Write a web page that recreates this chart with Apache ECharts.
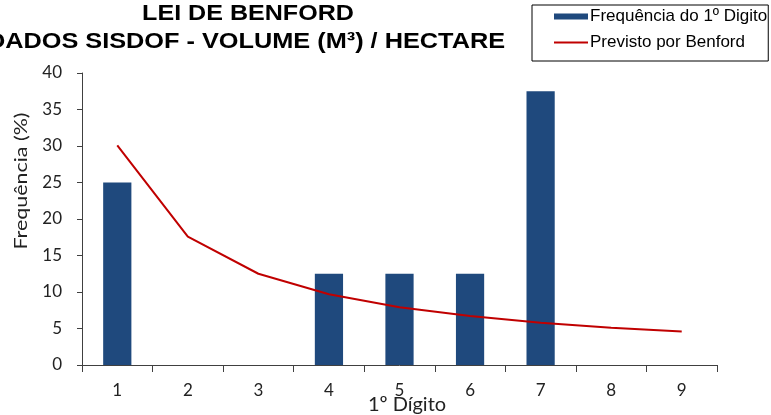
<!DOCTYPE html>
<html><head><meta charset="utf-8">
<script src="https://cdn.jsdelivr.net/npm/echarts@6/dist/echarts.min.js"></script>
<style>html,body{margin:0;padding:0;background:#fff}#c{width:771px;height:415px}</style>
</head><body><div id="c"></div>
<script>
const categories = ['1','2','3','4','5','6','7','8','9'];
const frequencia = [25, 0, 0, 12.5, 12.5, 12.5, 37.5, 0, 0];
const benford = [30.1, 17.6, 12.5, 9.7, 7.9, 6.7, 5.8, 5.1, 4.6];
const yTicks = [0, 5, 10, 15, 20, 25, 30, 35, 40];
const titleLines = ['LEI DE BENFORD', 'DADOS SISDOF - VOLUME (M³) / HECTARE'];
const seriesNames = ['Frequência do 1º Digito', 'Previsto por Benford'];
const xName = '1º Dígito';
const yName = 'Frequência (%)';

const chart = echarts.init(document.getElementById('c'), null, {renderer: 'canvas'});
const axisFont = 'Lato, "Open Sans", sans-serif';
chart.setOption({
  animation: false,
  backgroundColor: '#fff',
  graphic: [
    {type: 'text', x: 248, y: 14, scaleX: 1.14, style: {text: titleLines[0], fontFamily: '"Liberation Sans", Arial', fontWeight: 'bold', fontSize: 22, fill: '#000', align: 'center', verticalAlign: 'middle'}},
    {type: 'text', x: 246, y: 42, scaleX: 1.15, style: {text: titleLines[1], fontFamily: '"Liberation Sans", Arial', fontWeight: 'bold', fontSize: 22, fill: '#000', align: 'center', verticalAlign: 'middle'}},
    {type: 'text', x: 22, y: 181, rotation: Math.PI / 2, scaleX: 1.26, style: {text: yName, fontFamily: axisFont, fontSize: 17, fill: '#222', align: 'center', verticalAlign: 'middle'}},
    {type: 'text', x: 407, y: 405, style: {text: xName, fontFamily: axisFont, fontSize: 20, fill: '#222', align: 'center', verticalAlign: 'middle'}}
  ],
  legend: {
    orient: 'vertical', left: 532, top: 5,
    borderColor: '#000', borderWidth: 1, padding: [3, 1, 10, 21],
    itemWidth: 34, itemHeight: 6, itemGap: 9,
    textStyle: {fontFamily: '"Liberation Sans", Arial', fontSize: 17, color: '#000', padding: [0,0,0,-3]},
    data: [
      {name: seriesNames[0], icon: 'rect'},
      {name: seriesNames[1], itemStyle: {opacity: 0}, lineStyle: {color: '#C00000', width: 2}}
    ]
  },
  grid: {left: 82, right: 54, top: 73, bottom: 50},
  xAxis: {
    type: 'category', data: categories,
    axisLine: {lineStyle: {color: '#404040', width: 1}},
    axisTick: {show: true, alignWithLabel: false, length: 7, lineStyle: {color: '#404040'}},
    axisLabel: {fontFamily: axisFont, fontSize: 17, color: '#222', margin: 17}
  },
  yAxis: {
    type: 'value', min: yTicks[0], max: yTicks[yTicks.length-1], interval: 5,
    axisLine: {show: true, lineStyle: {color: '#404040', width: 1}},
    axisTick: {show: true, length: 5, lineStyle: {color: '#404040'}},
    splitLine: {show: false},
    axisLabel: {fontFamily: axisFont, fontSize: 17, color: '#222', margin: 20}
  },
  series: [
    {name: seriesNames[0], type: 'bar', data: frequencia, barWidth: '40%',
     itemStyle: {color: '#1F497D'}},
    {name: seriesNames[1], type: 'line', data: benford, symbol: 'none',
     lineStyle: {color: '#C00000', width: 2}, itemStyle: {color: '#C00000'}}
  ]
});
</script></body></html>
